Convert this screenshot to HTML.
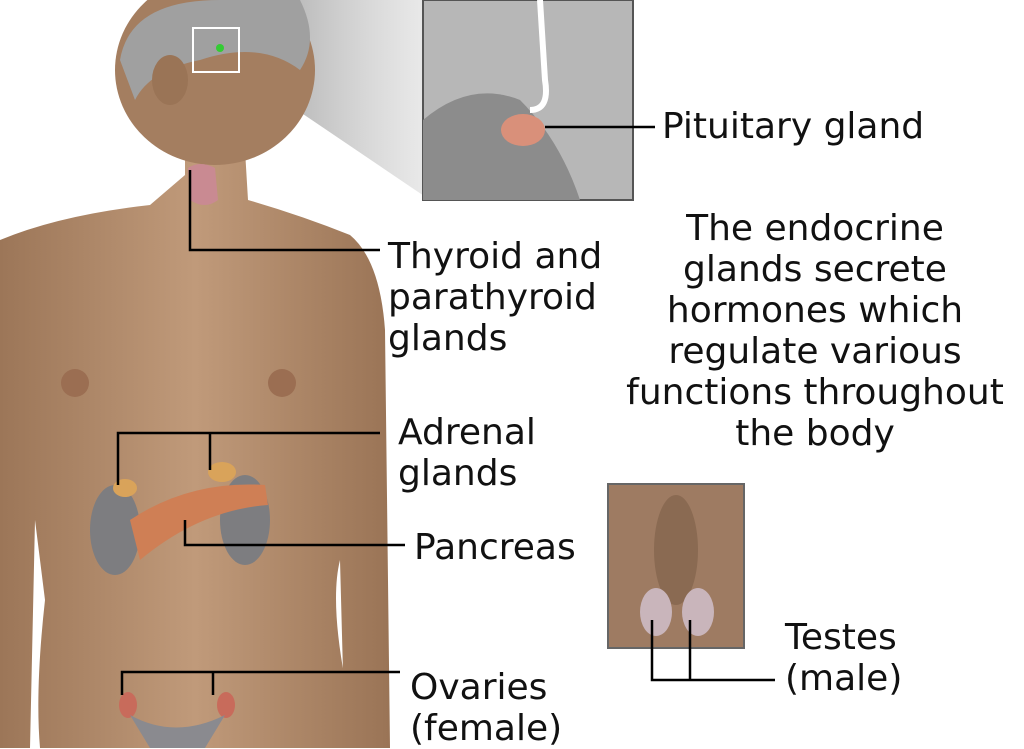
<!DOCTYPE html>
<html><head><meta charset="utf-8"><style>
html,body{margin:0;padding:0;background:#fff;}
body{width:1024px;height:748px;overflow:hidden;position:relative;font-family:"DejaVu Sans","Liberation Sans",sans-serif;}
.t{position:absolute;font-size:36px;color:#111;line-height:41px;white-space:nowrap;}
</style></head><body>
<svg width="1024" height="748" style="position:absolute;left:0;top:0">
<defs>
<linearGradient id="sk" x1="0" x2="1"><stop offset="0" stop-color="#9c7658"/><stop offset="0.5" stop-color="#c09a7a"/><stop offset="1" stop-color="#9a7456"/></linearGradient>
<linearGradient id="cone" x1="0" x2="1"><stop offset="0" stop-color="#777" stop-opacity="0.8"/><stop offset="1" stop-color="#ccc" stop-opacity="0.4"/></linearGradient>
</defs>
<polygon points="215,28 238,70 430,200 430,0 300,0" fill="url(#cone)"/>
<path d="M0,240 Q60,215 150,205 L185,175 L185,150 L245,150 L248,200 Q300,215 350,235 Q380,260 385,330 L390,748 L345,748 L340,560 Q330,600 345,680 L345,748 L40,748 Q35,690 45,600 L35,520 L30,748 L0,748 Z" fill="url(#sk)"/>
<ellipse cx="215" cy="70" rx="100" ry="95" fill="#a47e60"/>
<path d="M120,60 Q130,0 220,0 L300,0 Q320,40 300,70 Q260,40 200,60 Q150,70 135,100 Z" fill="#a0a0a0"/>
<ellipse cx="170" cy="80" rx="18" ry="25" fill="#9a7456"/>
<rect x="193" y="28" width="46" height="44" fill="none" stroke="#fff" stroke-width="2"/>
<circle cx="220" cy="48" r="4" fill="#3c3"/>
<ellipse cx="75" cy="383" rx="14" ry="14" fill="#9b6e52"/>
<ellipse cx="282" cy="383" rx="14" ry="14" fill="#9b6e52"/>
<path d="M188,168 Q200,160 215,168 L218,200 Q205,210 190,200 Z" fill="#c98a92"/>
<ellipse cx="115" cy="530" rx="25" ry="45" fill="#7d7d80"/>
<ellipse cx="245" cy="520" rx="25" ry="45" fill="#7d7d80"/>
<ellipse cx="125" cy="488" rx="12" ry="9" fill="#d9a35a"/>
<ellipse cx="222" cy="472" rx="14" ry="10" fill="#d9a35a"/>
<path d="M130,520 Q190,480 265,485 L268,505 Q200,510 140,560 Z" fill="#cf7f55"/>
<ellipse cx="128" cy="705" rx="9" ry="13" fill="#c86b5b"/>
<ellipse cx="226" cy="705" rx="9" ry="13" fill="#c86b5b"/>
<path d="M130,715 Q175,740 225,715 L205,748 L150,748 Z" fill="#8a8a8f"/>
<rect x="423" y="0" width="210" height="200" fill="#b7b7b7" stroke="#555" stroke-width="2"/>
<path d="M423,120 Q470,80 520,100 Q560,140 580,200 L423,200 Z" fill="#8c8c8c"/>
<path d="M540,0 L545,80 Q550,110 530,110" fill="none" stroke="#fff" stroke-width="6"/>
<ellipse cx="523" cy="130" rx="22" ry="16" fill="#d9907a"/>
<rect x="608" y="484" width="136" height="164" fill="#9e7b62" stroke="#666" stroke-width="2"/>
<ellipse cx="676" cy="550" rx="22" ry="55" fill="#8a6a52"/>
<ellipse cx="656" cy="612" rx="16" ry="24" fill="#c9b5bb"/>
<ellipse cx="698" cy="612" rx="16" ry="24" fill="#c9b5bb"/>
<g stroke="#000" stroke-width="2.5" fill="none">
<polyline points="545,127 655,127"/>
<polyline points="190,170 190,250 380,250"/>
<polyline points="118,485 118,433 380,433"/>
<polyline points="210,470 210,433"/>
<polyline points="185,520 185,545 405,545"/>
<polyline points="122,695 122,672 400,672"/>
<polyline points="213,695 213,672"/>
<polyline points="652,620 652,680 775,680"/>
<polyline points="690,620 690,680"/>
</g>
</svg>
<div class="t" style="left:662px;top:106px">Pituitary gland</div>
<div class="t" style="left:388px;top:236px">Thyroid and<br>parathyroid<br>glands</div>
<div class="t" style="left:600px;top:208px;width:430px;text-align:center">The endocrine<br>glands secrete<br>hormones which<br>regulate various<br>functions throughout<br>the body</div>
<div class="t" style="left:398px;top:412px">Adrenal<br>glands</div>
<div class="t" style="left:414px;top:527px">Pancreas</div>
<div class="t" style="left:785px;top:617px">Testes<br>(male)</div>
<div class="t" style="left:410px;top:667px">Ovaries<br>(female)</div>
</body></html>
